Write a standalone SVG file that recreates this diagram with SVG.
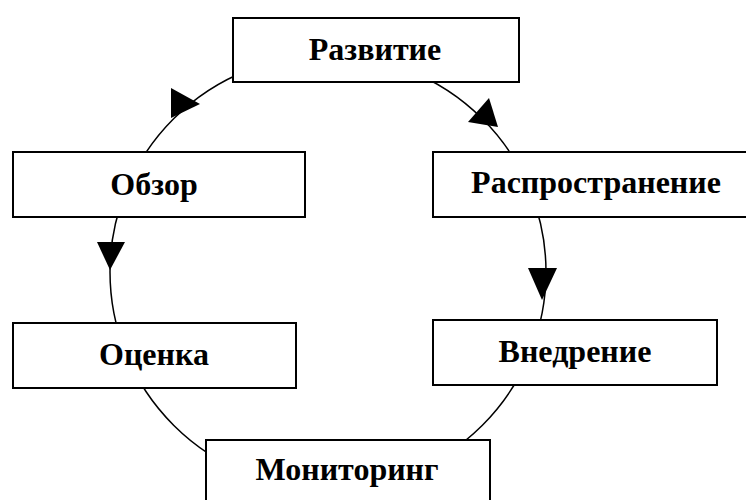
<svg xmlns="http://www.w3.org/2000/svg" width="746" height="500" viewBox="0 0 746 500">
<style>
.box{fill:#fff;stroke:#000;stroke-width:2}
.lbl{font-family:"Liberation Serif","Times New Roman",serif;font-weight:bold;font-size:32px;text-anchor:middle;fill:#000}
.conn{fill:none;stroke:#000;stroke-width:1.5}
.head{fill:#000;stroke:none}
</style>
<rect width="746" height="500" fill="#fff"/>
<g id="connectors">
<ellipse class="conn" cx="328" cy="272" rx="218" ry="217"/>
<polygon class="head" points="171,88 171,118 200,104"/>
<polygon class="head" points="468,122 489,98 498,127"/>
<polygon class="head" points="97,242 125,242 110,270"/>
<polygon class="head" points="528,268 557,268 542,300"/>
</g>
<g id="razvitie"><rect class="box" x="233" y="18" width="286" height="64"/><text class="lbl" x="375" y="60">Развитие</text></g>
<g id="obzor"><rect class="box" x="13" y="152" width="292" height="65"/><text class="lbl" x="154" y="195">Обзор</text></g>
<g id="rasprostranenie"><rect class="box" x="433" y="152" width="320" height="65"/><text class="lbl" x="596" y="193">Распространение</text></g>
<g id="ocenka"><rect class="box" x="13" y="323" width="283" height="65"/><text class="lbl" x="154" y="365">Оценка</text></g>
<g id="vnedrenie"><rect class="box" x="433" y="320" width="284" height="65"/><text class="lbl" x="575" y="362">Внедрение</text></g>
<g id="monitoring"><rect class="box" x="206" y="440" width="284" height="70"/><text class="lbl" x="347" y="480">Мониторинг</text></g>
</svg>
